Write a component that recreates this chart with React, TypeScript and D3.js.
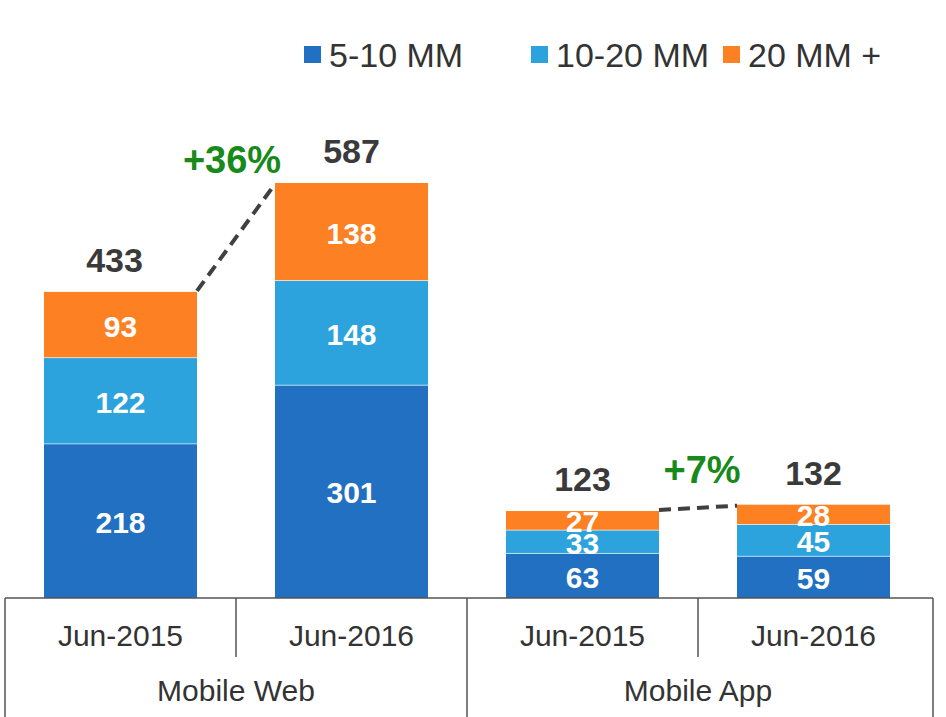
import * as d3 from "d3";
import React, { useEffect, useRef } from "react";

// chart data
const groups = ["Mobile Web", "Mobile App"];
const periods = ["Jun-2015", "Jun-2016"];
const seriesNames = ["5-10 MM", "10-20 MM", "20 MM +"];
const small = [218, 301, 63, 59];
const medium = [122, 148, 33, 45];
const large = [93, 138, 27, 28];
const growth = ["+36%", "+7%"];

const colors = ["#2170c1", "#2ca3dc", "#fd8023"];
const W = 946;
const H = 717;

const App = () => {
  const svgRef = useRef<SVGSVGElement>(null);

  useEffect(() => {
    const svg = d3.select(svgRef.current);
    svg.selectAll("*").remove();
    const font = "'Liberation Sans', Arial, sans-serif";

    const keys = groups.flatMap((g) => periods.map((p) => g + "|" + p));
    const rows = keys.map((k, i) => ({ key: k, s0: small[i], s1: medium[i], s2: large[i] }));
    const stack = d3.stack<any>().keys(["s0", "s1", "s2"]);
    const layers = stack(rows);

    const baseY = 598;
    const x = d3.scaleBand().domain(keys).range([5, 929]);
    const bw = 153;
    const y = d3.scaleLinear().domain([0, 587]).range([baseY, 183]);
    const barX = (k: string) => (x(k) as number) + (x.bandwidth() - bw) / 2;
    const cx = (k: string) => (x(k) as number) + x.bandwidth() / 2;

    // stacked bars
    const layerG = svg
      .selectAll("g.layer")
      .data(layers)
      .enter()
      .append("g")
      .attr("fill", (d, i) => colors[i]);
    layerG
      .selectAll("rect")
      .data((d) => d)
      .enter()
      .append("rect")
      .attr("x", (d: any) => barX(d.data.key))
      .attr("y", (d) => y(d[1]))
      .attr("width", bw)
      .attr("height", (d) => y(d[0]) - y(d[1]));

    // thin white seams between segments
    layers.slice(1).forEach((layer) => {
      layer.forEach((d: any) => {
        svg.append("line")
          .attr("x1", barX(d.data.key)).attr("x2", barX(d.data.key) + bw)
          .attr("y1", y(d[0])).attr("y2", y(d[0]))
          .attr("stroke", "#ffffff").attr("stroke-opacity", 0.6).attr("stroke-width", 1);
      });
    });

    // segment values
    layers.forEach((layer, li) => {
      layer.forEach((d: any, i) => {
        const vals = [small, medium, large][li];
        svg.append("text")
          .attr("x", cx(d.data.key))
          .attr("y", (y(d[0]) + y(d[1])) / 2 + 1)
          .attr("dy", "0.36em")
          .attr("text-anchor", "middle")
          .attr("font-family", font)
          .attr("font-weight", "bold")
          .attr("font-size", 30)
          .attr("fill", "#ffffff")
          .text(vals[i]);
      });
    });

    // totals
    const totals = rows.map((r) => r.s0 + r.s1 + r.s2);
    keys.forEach((k, i) => {
      svg.append("text")
        .attr("x", cx(k) - (i === 0 ? 6 : 0))
        .attr("y", y(totals[i]) - 20)
        .attr("text-anchor", "middle")
        .attr("font-family", font)
        .attr("font-weight", "bold")
        .attr("font-size", 34)
        .attr("fill", "#3a3a3a")
        .text(totals[i]);
    });

    // growth connectors
    groups.forEach((g, gi) => {
      const k0 = keys[gi * 2];
      const k1 = keys[gi * 2 + 1];
      const x0 = barX(k0) + bw;
      const x1 = barX(k1);
      const y0 = y(totals[gi * 2]);
      const y1 = y(totals[gi * 2 + 1]);
      svg.append("line")
        .attr("x1", x0).attr("y1", y0 - 1)
        .attr("x2", x1).attr("y2", y1 + 1)
        .attr("stroke", "#404040")
        .attr("stroke-width", 4)
        .attr("stroke-dasharray", "12,7");
      svg.append("text")
        .attr("x", (x0 + x1) / 2 + (gi === 0 ? -4 : 4))
        .attr("y", Math.min(y0, y1) - (gi === 0 ? 10 : 22))
        .attr("text-anchor", "middle")
        .attr("font-family", font)
        .attr("font-weight", "bold")
        .attr("font-size", 38)
        .attr("fill", "#18891b")
        .text(growth[gi]);
    });

    // category axis
    const axis = svg.append("g").attr("stroke", "#555555").attr("stroke-width", 1.5);
    axis.append("line").attr("x1", 5).attr("x2", 933).attr("y1", baseY).attr("y2", baseY);
    const edges = keys.map((k) => x(k) as number).concat([933]);
    edges.forEach((ex, i) => {
      const full = i % 2 === 0;
      axis.append("line")
        .attr("x1", ex).attr("x2", ex)
        .attr("y1", baseY).attr("y2", full ? H : 657);
    });
    keys.forEach((k, i) => {
      svg.append("text")
        .attr("x", cx(k))
        .attr("y", 646)
        .attr("text-anchor", "middle")
        .attr("font-family", font)
        .attr("font-size", 30)
        .attr("fill", "#333333")
        .text(periods[i % 2]);
    });
    groups.forEach((g, gi) => {
      svg.append("text")
        .attr("x", (cx(keys[gi * 2]) + cx(keys[gi * 2 + 1])) / 2)
        .attr("y", 701)
        .attr("text-anchor", "middle")
        .attr("font-family", font)
        .attr("font-size", 30)
        .attr("fill", "#333333")
        .text(g);
    });

    // legend
    const legendX = [304, 531, 723];
    seriesNames.forEach((name, i) => {
      svg.append("rect")
        .attr("x", legendX[i]).attr("y", 46)
        .attr("width", 17).attr("height", 17)
        .attr("fill", colors[i]);
      svg.append("text")
        .attr("x", legendX[i] + 25)
        .attr("y", 67)
        .attr("font-family", font)
        .attr("font-size", 34)
        .attr("fill", "#333333")
        .text(name);
    });
  }, []);

  return (
    <svg
      ref={svgRef}
      width={W}
      height={H}
      viewBox={`0 0 ${W} ${H}`}
      style={{ position: "absolute", left: 0, top: 0, background: "#ffffff" }}
    />
  );
};

export default App;
